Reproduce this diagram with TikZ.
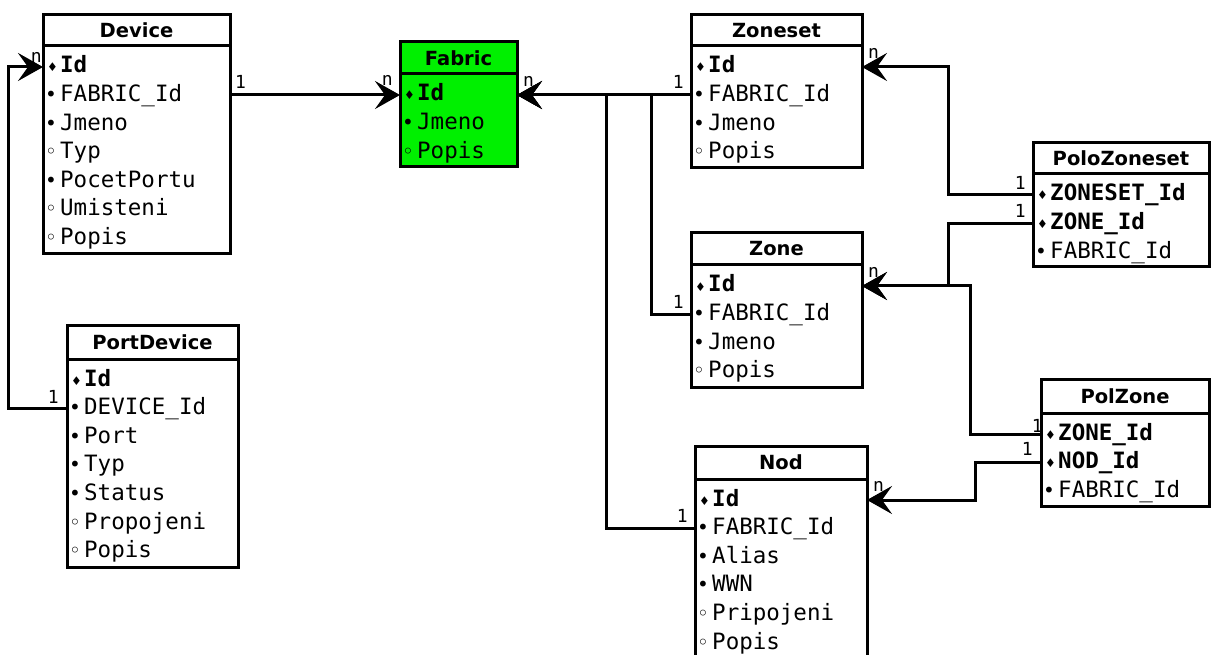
\documentclass[tikz,border=0pt]{standalone}
\usepackage{fontspec}
\setmainfont{DejaVu Sans}
\setsansfont{DejaVu Sans}
\setmonofont{DejaVu Sans Mono}
\newfontfamily\markfont{DejaVu Sans}
\usepackage{tikz}
\usetikzlibrary{positioning, arrows.meta, calc}

\definecolor{fabricgreen}{RGB}{0,240,0}

% column markers: key, required, optional
\newcommand{\keyf}[1]{\makebox[15pt][l]{\hspace{2pt}\raisebox{1pt}{\markfont\fontsize{12}{12}\selectfont ♦}}\textbf{#1}}
\newcommand{\reqf}[1]{\makebox[15pt][l]{\hspace{0pt}\markfont\fontsize{20}{20}\selectfont •}#1}
\newcommand{\optf}[1]{\makebox[15pt][l]{\hspace{0pt}\markfont\fontsize{20}{20}\selectfont ◦}#1}

\tikzset{
  tblhead/.style={draw, line width=3pt, anchor=north west, inner sep=0pt, outer sep=0pt,
    font=\sffamily\bfseries\fontsize{19.5}{21}\selectfont},
  tblbody/.style={draw, line width=3pt, anchor=north west, inner sep=0pt, outer sep=0pt},
  field/.style={anchor=west, inner sep=0pt, text height=15pt, text depth=3pt,
    font=\ttfamily\fontsize{22.5}{26}\selectfont},
  rel/.style={line width=3pt, -{Stealth[length=25pt, width=28pt, inset=10pt]}},
  card/.style={inner sep=0pt, font=\ttfamily\fontsize{18}{18}\selectfont},
}

\begin{document}
\begin{tikzpicture}[x=1pt, y=-1pt]
    \clip (0,0) rectangle (1211,655);

    % Device
    \node[tblhead, minimum width=187pt, minimum height=31pt] (dev) at (43,15) {Device};
    \node[tblbody, minimum width=187pt, minimum height=208pt] (devb) at (dev.south west) {};
    \foreach \f [count=\i] in {\keyf{Id}, \reqf{FABRIC\_Id}, \reqf{Jmeno}, \optf{Typ}, \reqf{PocetPortu}, \optf{Umisteni}, \optf{Popis}}
        \node[field] (dev-\i) at ($(devb.north west)+(2,{21+(\i-1)*28.6})$) {\f};

    % Fabric
    \node[tblhead, fill=fabricgreen, minimum width=117pt, minimum height=32pt] (fab) at (400,42) {Fabric};
    \node[tblbody, fill=fabricgreen, minimum width=117pt, minimum height=93pt] (fabb) at (fab.south west) {};
    \foreach \f [count=\i] in {\keyf{Id}, \reqf{Jmeno}, \optf{Popis}}
        \node[field] (fab-\i) at ($(fabb.north west)+(2,{21+(\i-1)*28.6})$) {\f};

    % Zoneset
    \node[tblhead, minimum width=171pt, minimum height=31pt] (zs) at (691,15) {Zoneset};
    \node[tblbody, minimum width=171pt, minimum height=122pt] (zsb) at (zs.south west) {};
    \foreach \f [count=\i] in {\keyf{Id}, \reqf{FABRIC\_Id}, \reqf{Jmeno}, \optf{Popis}}
        \node[field] (zs-\i) at ($(zsb.north west)+(2,{21+(\i-1)*28.6})$) {\f};

    % Zone
    \node[tblhead, minimum width=171pt, minimum height=32pt] (zone) at (691,233) {Zone};
    \node[tblbody, minimum width=171pt, minimum height=122pt] (zoneb) at (zone.south west) {};
    \foreach \f [count=\i] in {\keyf{Id}, \reqf{FABRIC\_Id}, \reqf{Jmeno}, \optf{Popis}}
        \node[field] (zone-\i) at ($(zoneb.north west)+(2,{21+(\i-1)*28.6})$) {\f};

    % Nod
    \node[tblhead, minimum width=172pt, minimum height=33pt] (nod) at (695,446) {Nod};
    \node[tblbody, minimum width=172pt, minimum height=179pt] (nodb) at (nod.south west) {};
    \foreach \f [count=\i] in {\keyf{Id}, \reqf{FABRIC\_Id}, \reqf{Alias}, \reqf{WWN}, \optf{Pripojeni}, \optf{Popis}}
        \node[field] (nod-\i) at ($(nodb.north west)+(2,{21+(\i-1)*28.6})$) {\f};

    % PortDevice
    \node[tblhead, minimum width=171pt, minimum height=34pt] (pd) at (67,325) {PortDevice};
    \node[tblbody, minimum width=171pt, minimum height=208pt] (pdb) at (pd.south west) {};
    \foreach \f [count=\i] in {\keyf{Id}, \reqf{DEVICE\_Id}, \reqf{Port}, \reqf{Typ}, \reqf{Status}, \optf{Propojeni}, \optf{Popis}}
        \node[field] (pd-\i) at ($(pdb.north west)+(2,{21+(\i-1)*28.6})$) {\f};

    % PoloZoneset
    \node[tblhead, minimum width=176pt, minimum height=31pt] (pzs) at (1033,143) {PoloZoneset};
    \node[tblbody, minimum width=176pt, minimum height=93pt] (pzsb) at (pzs.south west) {};
    \foreach \f [count=\i] in {\keyf{ZONESET\_Id}, \keyf{ZONE\_Id}, \reqf{FABRIC\_Id}}
        \node[field] (pzs-\i) at ($(pzsb.north west)+(2,{21+(\i-1)*28.6})$) {\f};

    % PolZone
    \node[tblhead, minimum width=168pt, minimum height=34pt] (pz) at (1041,379) {PolZone};
    \node[tblbody, minimum width=168pt, minimum height=93pt] (pzb) at (pz.south west) {};
    \foreach \f [count=\i] in {\keyf{ZONE\_Id}, \keyf{NOD\_Id}, \reqf{FABRIC\_Id}}
        \node[field] (pz-\i) at ($(pzb.north west)+(2,{21+(\i-1)*28.6})$) {\f};

    % vertical runs of the links
    \coordinate (pdbus) at (8,0);
    \coordinate (nodbus) at (606,0);
    \coordinate (zonebus) at (651,0);
    \coordinate (zsbus) at (948,0);
    \coordinate (pzbus) at (970,0);
    \coordinate (nodlink) at (975,0);

    % links to Fabric
    \draw[rel] (fab-1 -| devb.east) -- (fab-1 -| fabb.west);
    \draw[rel] (fab-1 -| zsb.west) -- (fab-1 -| fabb.east);
    \draw[rel] (zone-2 -| zoneb.west) -| (zonebus |- fab-1) -- (fab-1 -| fabb.east);
    \draw[rel] (nod-2 -| nodb.west) -| (nodbus |- fab-1) -- (fab-1 -| fabb.east);

    % other links
    \draw[rel] (pd-2 -| pdb.west) -| (pdbus |- dev-1) -- (dev-1 -| devb.west);
    \draw[rel] (pzs-1 -| pzsb.west) -| (zsbus |- zs-1) -- (zs-1 -| zsb.east);
    \draw[rel] (pzs-2 -| pzsb.west) -| (zsbus |- zone-1) -- (zone-1 -| zoneb.east);
    \draw[rel] (pz-1 -| pzb.west) -| (pzbus |- zone-1) -- (zone-1 -| zoneb.east);
    \draw[rel] (pz-2 -| pzb.west) -| (nodlink |- nod-1) -- (nod-1 -| nodb.east);

    % cardinalities
    \node[card, anchor=south west] (c1) at ($(fab-1 -| devb.east)+(5,-6)$) {1};
    \node[card, anchor=south east] (c2) at ($(fab-1 -| fabb.west)+(-7,-9)$) {n};
    \node[card, anchor=south west] (c3) at ($(fab-1 -| fabb.east)+(6,-8)$) {n};
    \node[card, anchor=south east] (c4) at ($(fab-1 -| zsb.west)+(-7,-6)$) {1};
    \node[card, anchor=south east] (c5) at ($(zone-2 -| zoneb.west)+(-7,-6)$) {1};
    \node[card, anchor=south east] (c6) at ($(nod-2 -| nodb.west)+(-7,-6)$) {1};
    \node[card, anchor=south east] (c7) at ($(pd-2 -| pdb.west)+(-8,-5)$) {1};
    \node[card, anchor=south east] (c8) at ($(dev-1 -| devb.west)+(-1,-4)$) {n};
    \node[card, anchor=south west] (c9) at ($(zs-1 -| zsb.east)+(6,-8)$) {n};
    \node[card, anchor=south east] (c10) at ($(pzs-1 -| pzsb.west)+(-7,-5)$) {1};
    \node[card, anchor=south east] (c11) at ($(pzs-2 -| pzsb.west)+(-7,-6)$) {1};
    \node[card, anchor=south west] (c12) at ($(zone-1 -| zoneb.east)+(6,-8)$) {n};
    \node[card, anchor=south east] (c13) at ($(pz-1 -| pzb.west)+(2,-1)$) {1};
    \node[card, anchor=south east] (c14) at ($(pz-2 -| pzb.west)+(-8,-7)$) {1};
    \node[card, anchor=south west] (c15) at ($(nod-1 -| nodb.east)+(6,-8)$) {n};
\end{tikzpicture}
\end{document}
